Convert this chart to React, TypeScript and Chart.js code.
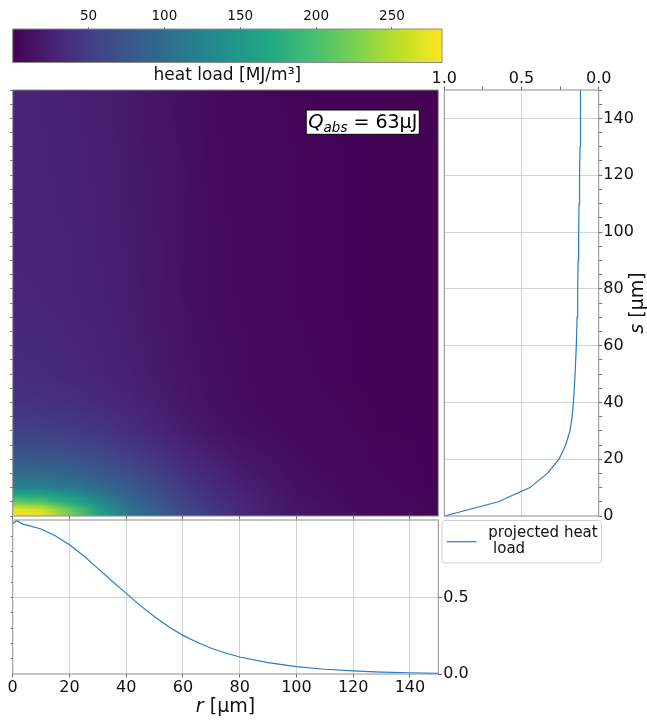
import React, { useEffect, useRef } from 'react';
import { Chart, registerables } from 'chart.js';

Chart.register(...registerables);

// ---------- styling ----------
const FONT = "'DejaVu Sans', 'Liberation Sans', sans-serif";
const TEXT = '#111111';
const SPINE = '#8c8c8c';
const GRID = '#d3d3d3';
const TICK = '#707070';
const LINE = '#2a7dc4';

// ---------- colour bar ----------
const CB_MIN = 0;
const CB_MAX = 283;
const CB_TICKS = [50, 100, 150, 200, 250];
const CB_LABEL = 'heat load [MJ/m³]';
const VIRIDIS = ['#440154', '#482475', '#414487', '#355f8d', '#2a788e', '#21918c', '#22a884', '#44bf70', '#7ad151', '#bddf26', '#fde725'];

// ---------- heat map grid (r columns, s rows) ----------
const R_GRID = [0, 10, 20, 30, 40, 50, 60, 70, 80, 100, 125, 150];
const S_GRID = [0, 2.5, 5, 7.5, 10, 15, 20, 25, 30, 40, 50, 75, 100, 125, 150];
const HEAT_S0 = [280, 272, 228, 165, 118, 88, 64, 47, 33, 17, 7, 3];
const HEAT_S2_5 = [272, 262, 212, 156, 112, 84, 61, 45, 32, 16, 7, 3];
const HEAT_S5 = [215, 205, 172, 134, 100, 76, 56, 42, 30, 15, 6, 3];
const HEAT_S7_5 = [170, 164, 145, 118, 91, 70, 52, 39, 28, 14, 6, 3];
const HEAT_S10 = [130, 127, 117, 101, 82, 64, 48, 36, 26, 13, 6, 2];
const HEAT_S15 = [98, 96, 90, 80, 68, 54, 41, 31, 22, 11, 5, 2];
const HEAT_S20 = [80, 78, 74, 66, 56, 45, 34, 26, 19, 10, 4, 2];
const HEAT_S25 = [65, 64, 60, 54, 46, 37, 28, 21, 15, 8, 4, 2];
const HEAT_S30 = [54, 53, 50, 45, 38, 31, 23, 17, 12, 7, 3, 2];
const HEAT_S40 = [42, 41, 39, 35, 30, 24, 18, 13, 10, 5, 3, 1];
const HEAT_S50 = [36, 35, 33, 30, 26, 21, 16, 12, 9, 5, 2, 1];
const HEAT_S75 = [32, 31, 29, 27, 23, 19, 14, 10, 8, 4, 2, 1];
const HEAT_S100 = [30, 30, 28, 25, 22, 18, 13, 10, 7, 4, 2, 1];
const HEAT_S125 = [30, 29, 27, 25, 21, 17, 13, 9, 7, 4, 2, 1];
const HEAT_S150 = [29, 28, 26, 24, 20, 16, 12, 9, 6, 3, 2, 1];
const HEAT = [HEAT_S0, HEAT_S2_5, HEAT_S5, HEAT_S7_5, HEAT_S10, HEAT_S15, HEAT_S20, HEAT_S25, HEAT_S30, HEAT_S40, HEAT_S50, HEAT_S75, HEAT_S100, HEAT_S125, HEAT_S150];

// ---------- projected profiles ----------
const R_PROFILE = [0, 1.5, 3.5, 5, 10, 15, 20, 25, 30, 35, 40, 45, 50, 55, 60, 65, 70, 75, 80, 90, 100, 110, 120, 130, 140, 150];
const P_PROFILE = [0.983, 1.0, 0.978, 0.972, 0.946, 0.902, 0.844, 0.772, 0.689, 0.607, 0.526, 0.446, 0.374, 0.309, 0.252, 0.207, 0.168, 0.137, 0.111, 0.074, 0.048, 0.031, 0.020, 0.012, 0.008, 0.004];
const S_PROFILE = [0, 5, 10, 15, 20, 25, 30, 35, 40, 45, 50, 60, 70, 80, 90, 100, 110, 120, 130, 140, 150];
const Q_PROFILE = [1.0, 0.65, 0.445, 0.333, 0.257, 0.214, 0.186, 0.172, 0.164, 0.158, 0.153, 0.145, 0.140, 0.136, 0.133, 0.130, 0.127, 0.124, 0.121, 0.119, 0.117];

// ---------- ticks & labels ----------
const R_TICKS = [0, 20, 40, 60, 80, 100, 120, 140];
const S_TICKS = [0, 20, 40, 60, 80, 100, 120, 140];
const S_MINOR_TICKS = [0, 5, 10, 15, 20, 25, 30, 35, 40, 45, 50, 55, 60, 65, 70, 75, 80, 85, 90, 95, 100, 105, 110, 115, 120, 125, 130, 135, 140, 145, 150];
const Q_TICKS = [0, 0.25, 0.5, 0.75, 1];
const Q_LABELLED = [0, 0.5, 1];
const P_TICKS = [0, 0.5];
const P_MINOR_TICKS = [0.1, 0.2, 0.3, 0.4, 0.5, 0.6, 0.7, 0.8, 0.9];
const Q_ABS_MAIN = 'Q';
const Q_ABS_SUB = 'abs';
const Q_ABS_REST = ' = 63µJ';
const LEGEND_LINES = ['projected heat', ' load'];
const R_TITLE = ['r', ' [µm]'];
const S_TITLE = ['s', ' [µm]'];

// ---------- layout (page px) ----------
const PLOT_L = 12.7, PLOT_R = 438.3, PLOT_T = 90, PLOT_B = 516;
const SIDE_L = 444.3, SIDE_R = 598.7;
const BOT_T = 520, BOT_B = 674;
const CB_T = 29, CB_B = 62.5, CB_R = 442;

const CB_CANVAS = { left: 0, top: 0, w: 460, h: 88 };
const HM_CANVAS = { left: 0, top: 88, w: 442, h: 432 };
const SD_CANVAS = { left: 420, top: 60, w: 227, h: 470 };
const BT_CANVAS = { left: 0, top: 518, w: 647, h: 205 };

function hexToRgb(h: string): number[] {
  const n = parseInt(h.slice(1), 16);
  return [(n >> 16) & 255, (n >> 8) & 255, n & 255];
}
const VIRIDIS_RGB = VIRIDIS.map(hexToRgb);
function viridis(v: number): number[] {
  let f = (v - CB_MIN) / (CB_MAX - CB_MIN);
  f = Math.max(0, Math.min(1, f));
  const pos = f * (VIRIDIS_RGB.length - 1);
  const i = Math.min(Math.floor(pos), VIRIDIS_RGB.length - 2);
  const t = pos - i;
  const a = VIRIDIS_RGB[i], b = VIRIDIS_RGB[i + 1];
  return [a[0] + (b[0] - a[0]) * t, a[1] + (b[1] - a[1]) * t, a[2] + (b[2] - a[2]) * t];
}

const fixH = (h: number) => (s: any) => {
  s.height = h;
  s.paddingLeft = 0; s.paddingRight = 0; s.paddingTop = 0; s.paddingBottom = 0;
};
const fixW = (w: number) => (s: any) => {
  s.width = w;
  s.paddingLeft = 0; s.paddingRight = 0; s.paddingTop = 0; s.paddingBottom = 0;
};
const setTicks = (vals: number[]) => (s: any) => {
  s.ticks = vals.map((v) => ({ value: v }));
};

const spinePlugin = {
  id: 'spines',
  afterDraw(chart: any) {
    const { ctx, chartArea: a } = chart;
    ctx.save();
    ctx.strokeStyle = SPINE;
    ctx.lineWidth = 1;
    ctx.strokeRect(a.left, a.top, a.right - a.left, a.bottom - a.top);
    ctx.restore();
  },
};

const colorbarPlugin = {
  id: 'colorbar',
  beforeDatasetsDraw(chart: any) {
    const { ctx, chartArea: a, scales } = chart;
    const x0 = scales.x.getPixelForValue(CB_MIN);
    const x1 = scales.x.getPixelForValue(CB_MAX);
    const g = ctx.createLinearGradient(x0, 0, x1, 0);
    VIRIDIS.forEach((c, i) => g.addColorStop(i / (VIRIDIS.length - 1), c));
    ctx.save();
    ctx.fillStyle = g;
    ctx.fillRect(x0, a.top, x1 - x0, a.bottom - a.top);
    ctx.restore();
  },
};

const heatmapPlugin = {
  id: 'heatmapCells',
  beforeDatasetsDraw(chart: any) {
    const { ctx, scales } = chart;
    const xs = scales.x, ys = scales.y;
    const cell = document.createElement('canvas');
    cell.width = 2; cell.height = 2;
    const cctx = cell.getContext('2d')!;
    const img = cctx.createImageData(2, 2);
    const put = (k: number, v: number) => {
      const c = viridis(v);
      img.data[k * 4] = Math.round(c[0]);
      img.data[k * 4 + 1] = Math.round(c[1]);
      img.data[k * 4 + 2] = Math.round(c[2]);
      img.data[k * 4 + 3] = 255;
    };
    for (let i = 0; i < S_GRID.length - 1; i++) {
      const yTop = Math.round(ys.getPixelForValue(S_GRID[i + 1]));
      const yBot = Math.round(ys.getPixelForValue(S_GRID[i]));
      for (let j = 0; j < R_GRID.length - 1; j++) {
        const xL = Math.round(xs.getPixelForValue(R_GRID[j]));
        const xR = Math.round(xs.getPixelForValue(R_GRID[j + 1]));
        put(0, HEAT[i + 1][j]);
        put(1, HEAT[i + 1][j + 1]);
        put(2, HEAT[i][j]);
        put(3, HEAT[i][j + 1]);
        cctx.putImageData(img, 0, 0);
        const w = xR - xL, h = yBot - yTop;
        ctx.save();
        ctx.beginPath();
        ctx.rect(xL, yTop, w, h);
        ctx.clip();
        ctx.imageSmoothingEnabled = true;
        ctx.imageSmoothingQuality = 'low';
        ctx.drawImage(cell, xL - w / 2, yTop - h / 2, 2 * w, 2 * h);
        ctx.restore();
      }
    }
  },
};

const qAbsPlugin = {
  id: 'qAbs',
  afterDraw(chart: any) {
    const { ctx, chartArea: a } = chart;
    const big = `19px ${FONT}`;
    const bigI = `italic 19.5px ${FONT}`;
    const subI = `italic 13.5px ${FONT}`;
    ctx.save();
    ctx.font = bigI; const wQ = ctx.measureText(Q_ABS_MAIN).width;
    ctx.font = subI; const wS = ctx.measureText(Q_ABS_SUB).width;
    ctx.font = big; const wR = ctx.measureText(Q_ABS_REST).width;
    const boxW = wQ + wS + wR + 4;
    const boxH = 24.3;
    const right = a.right - 19;
    const top = a.top + 20;
    const left = right - boxW;
    ctx.fillStyle = '#ffffff';
    ctx.fillRect(left, top, boxW, boxH);
    ctx.strokeStyle = '#000000';
    ctx.lineWidth = 1;
    ctx.strokeRect(left, top, boxW, boxH);
    ctx.fillStyle = '#000000';
    ctx.textBaseline = 'alphabetic';
    ctx.textAlign = 'left';
    const base = top + 18.2;
    let x = left + 2;
    ctx.font = bigI; ctx.fillText(Q_ABS_MAIN, x, base); x += wQ;
    ctx.font = subI; ctx.fillText(Q_ABS_SUB, x, base + 3.5); x += wS;
    ctx.font = big; ctx.fillText(Q_ABS_REST, x, base);
    ctx.restore();
  },
};

function drawMixedTitle(ctx: any, parts: string[], cx: number, cy: number, rot: number) {
  const fi = `italic 19px ${FONT}`;
  const fn = `19px ${FONT}`;
  ctx.save();
  ctx.font = fi; const w0 = ctx.measureText(parts[0]).width;
  ctx.font = fn; const w1 = ctx.measureText(parts[1]).width;
  ctx.translate(cx, cy);
  ctx.rotate(rot);
  ctx.fillStyle = TEXT;
  ctx.textBaseline = 'middle';
  ctx.textAlign = 'left';
  const start = -(w0 + w1) / 2;
  ctx.font = fi; ctx.fillText(parts[0], start, 0);
  ctx.font = fn; ctx.fillText(parts[1], start + w0, 0);
  ctx.restore();
}

const sTitlePlugin = {
  id: 'sTitle',
  afterDraw(chart: any) {
    drawMixedTitle(chart.ctx, S_TITLE, 638 - SD_CANVAS.left, (PLOT_T + PLOT_B) / 2 - SD_CANVAS.top, -Math.PI / 2);
  },
};

const rTitlePlugin = {
  id: 'rTitle',
  afterDraw(chart: any) {
    drawMixedTitle(chart.ctx, R_TITLE, (PLOT_L + PLOT_R) / 2 - BT_CANVAS.left, 707 - BT_CANVAS.top, 0);
  },
};

const legendPlugin = {
  id: 'projLegend',
  afterDraw(chart: any) {
    const ctx = chart.ctx;
    const ox = BT_CANVAS.left, oy = BT_CANVAS.top;
    const x0 = 442 - ox, y0 = 520.5 - oy, w = 159.5, h = 42.5, r = 3;
    ctx.save();
    ctx.beginPath();
    ctx.moveTo(x0 + r, y0);
    ctx.lineTo(x0 + w - r, y0);
    ctx.quadraticCurveTo(x0 + w, y0, x0 + w, y0 + r);
    ctx.lineTo(x0 + w, y0 + h - r);
    ctx.quadraticCurveTo(x0 + w, y0 + h, x0 + w - r, y0 + h);
    ctx.lineTo(x0 + r, y0 + h);
    ctx.quadraticCurveTo(x0, y0 + h, x0, y0 + h - r);
    ctx.lineTo(x0, y0 + r);
    ctx.quadraticCurveTo(x0, y0, x0 + r, y0);
    ctx.closePath();
    ctx.fillStyle = 'rgba(255,255,255,0.85)';
    ctx.fill();
    ctx.strokeStyle = '#d0d0d0';
    ctx.lineWidth = 1;
    ctx.stroke();
    ctx.strokeStyle = LINE;
    ctx.lineWidth = 1.2;
    ctx.beginPath();
    ctx.moveTo(446.7 - ox, 541.7 - oy);
    ctx.lineTo(476.7 - ox, 541.7 - oy);
    ctx.stroke();
    ctx.fillStyle = TEXT;
    ctx.font = `15px ${FONT}`;
    ctx.textBaseline = 'middle';
    ctx.textAlign = 'left';
    ctx.fillText(LEGEND_LINES[0], 488.3 - ox, 533 - oy);
    ctx.fillText(LEGEND_LINES[1], 488.3 - ox, 549.5 - oy);
    ctx.restore();
  },
};

const baseOptions = {
  responsive: false,
  animation: false as const,
  devicePixelRatio: 1,
  events: [] as any[],
  plugins: { legend: { display: false }, tooltip: { enabled: false }, title: { display: false } },
};

export default function App() {
  const cbRef = useRef<HTMLCanvasElement>(null);
  const hmRef = useRef<HTMLCanvasElement>(null);
  const sdRef = useRef<HTMLCanvasElement>(null);
  const btRef = useRef<HTMLCanvasElement>(null);

  useEffect(() => {
    const charts: Chart[] = [];

    // colour bar
    charts.push(
      new Chart(cbRef.current!, {
        type: 'scatter',
        data: { datasets: [] },
        options: {
          ...baseOptions,
          layout: { padding: { left: PLOT_L, right: CB_CANVAS.w - CB_R, top: 0, bottom: 0 } },
          scales: {
            x: {
              type: 'linear', position: 'top', min: CB_MIN, max: CB_MAX,
              afterBuildTicks: setTicks(CB_TICKS),
              ticks: { font: { family: FONT, size: 13.5 }, color: TEXT, padding: 2.2, maxRotation: 0, autoSkip: false },
              grid: { display: true, drawOnChartArea: false, drawTicks: true, tickLength: 2, color: TICK },
              border: { display: false },
              afterFit: fixH(CB_T),
            },
            x2: {
              type: 'linear', position: 'bottom', min: CB_MIN, max: CB_MAX,
              ticks: { display: false },
              grid: { display: false },
              border: { display: false },
              title: { display: true, text: CB_LABEL, color: TEXT, font: { family: FONT, size: 17 }, padding: { top: 0, bottom: 2 } },
              afterFit: fixH(CB_CANVAS.h - CB_B),
            },
            y: { display: false, min: 0, max: 1 },
          },
        } as any,
        plugins: [colorbarPlugin, spinePlugin],
      })
    );

    // heat map
    charts.push(
      new Chart(hmRef.current!, {
        type: 'scatter',
        data: { datasets: [] },
        options: {
          ...baseOptions,
          layout: { padding: { left: 0, right: HM_CANVAS.w - PLOT_R, top: PLOT_T - HM_CANVAS.top, bottom: 0 } },
          scales: {
            x: {
              type: 'linear', position: 'bottom', min: 0, max: 150,
              afterBuildTicks: setTicks(R_TICKS),
              ticks: { display: false },
              grid: { display: true, drawOnChartArea: false, drawTicks: true, tickLength: 3.5, color: TICK },
              border: { display: false },
              afterFit: fixH(HM_CANVAS.top + HM_CANVAS.h - PLOT_B),
            },
            y: {
              type: 'linear', position: 'left', min: 0, max: 150,
              afterBuildTicks: setTicks(S_MINOR_TICKS),
              ticks: { display: false },
              grid: { display: true, drawOnChartArea: false, drawTicks: true, tickLength: 2.5, color: TICK },
              border: { display: false },
              afterFit: fixW(PLOT_L),
            },
          },
        } as any,
        plugins: [heatmapPlugin, spinePlugin, qAbsPlugin],
      })
    );

    // side (s) profile
    charts.push(
      new Chart(sdRef.current!, {
        type: 'line',
        data: {
          datasets: [
            {
              label: LEGEND_LINES.join('\n'),
              data: S_PROFILE.map((s, i) => ({ x: Q_PROFILE[i], y: s })),
              borderColor: LINE, borderWidth: 1.2, pointRadius: 0, tension: 0, fill: false,
            },
          ],
        },
        options: {
          ...baseOptions,
          layout: { padding: { left: SIDE_L - SD_CANVAS.left, right: 0, top: 0, bottom: SD_CANVAS.top + SD_CANVAS.h - PLOT_B } },
          scales: {
            x: {
              type: 'linear', position: 'top', min: 0, max: 1, reverse: true,
              afterBuildTicks: setTicks(Q_TICKS),
              ticks: {
                font: { family: FONT, size: 16 }, color: TEXT, padding: -1.5, maxRotation: 0, autoSkip: false,
                callback: (v: any) => (Q_LABELLED.includes(v) ? Number(v).toFixed(1) : ''),
              },
              grid: {
                display: true, drawTicks: true, tickLength: 3.5, tickColor: TICK,
                color: (c: any) => (c.tick && c.tick.value === 0.5 ? GRID : 'rgba(0,0,0,0)'),
              },
              border: { display: false },
              afterFit: fixH(PLOT_T - SD_CANVAS.top),
            },
            y: {
              type: 'linear', position: 'right', min: 0, max: 150,
              afterBuildTicks: setTicks(S_MINOR_TICKS),
              ticks: {
                font: { family: FONT, size: 16 }, color: TEXT, padding: 1.1, autoSkip: false,
                callback: (v: any) => (S_TICKS.includes(v) ? String(v) : ''),
              },
              grid: {
                display: true, drawTicks: true, tickLength: 3.5, tickColor: TICK,
                color: (c: any) => (c.tick && S_TICKS.includes(c.tick.value) && c.tick.value !== 0 ? GRID : 'rgba(0,0,0,0)'),
              },
              border: { display: false },
              afterFit: fixW(SD_CANVAS.left + SD_CANVAS.w - SIDE_R),
            },
          },
        } as any,
        plugins: [spinePlugin, sTitlePlugin],
      })
    );

    // bottom (r) profile
    charts.push(
      new Chart(btRef.current!, {
        type: 'line',
        data: {
          datasets: [
            {
              label: LEGEND_LINES.join('\n'),
              data: R_PROFILE.map((r, i) => ({ x: r, y: P_PROFILE[i] })),
              borderColor: LINE, borderWidth: 1.2, pointRadius: 0, tension: 0, fill: false,
              yAxisID: 'y',
            },
          ],
        },
        options: {
          ...baseOptions,
          layout: { padding: { left: 0, right: 0, top: BOT_T - BT_CANVAS.top, bottom: 0 } },
          scales: {
            x: {
              type: 'linear', position: 'bottom', min: 0, max: 150,
              afterBuildTicks: setTicks(R_TICKS),
              ticks: { font: { family: FONT, size: 16 }, color: TEXT, padding: 1, maxRotation: 0, autoSkip: false },
              grid: {
                display: true, drawTicks: true, tickLength: 3.5, tickColor: TICK,
                color: (c: any) => (c.tick && c.tick.value !== 0 ? GRID : 'rgba(0,0,0,0)'),
              },
              border: { display: false },
              afterFit: fixH(BT_CANVAS.top + BT_CANVAS.h - BOT_B),
            },
            y: {
              type: 'linear', position: 'right', min: 0, max: 1.005,
              afterBuildTicks: setTicks(P_TICKS),
              ticks: {
                font: { family: FONT, size: 16 }, color: TEXT, padding: 1.5, autoSkip: false,
                callback: (v: any) => Number(v).toFixed(1),
              },
              grid: {
                display: true, drawTicks: true, tickLength: 3.5, tickColor: TICK,
                color: (c: any) => (c.tick && c.tick.value === 0.5 ? GRID : 'rgba(0,0,0,0)'),
              },
              border: { display: false },
              afterFit: fixW(BT_CANVAS.w - PLOT_R),
            },
            yl: {
              type: 'linear', position: 'left', min: 0, max: 1.005,
              afterBuildTicks: setTicks(P_MINOR_TICKS),
              ticks: { display: false },
              grid: { display: true, drawOnChartArea: false, drawTicks: true, tickLength: 2, color: TICK },
              border: { display: false },
              afterFit: fixW(PLOT_L),
            },
          },
        } as any,
        plugins: [spinePlugin, rTitlePlugin, legendPlugin],
      })
    );

    return () => charts.forEach((c) => c.destroy());
  }, []);

  const pos = (c: { left: number; top: number; w: number; h: number }) => ({
    position: 'absolute' as const, left: c.left, top: c.top, width: c.w, height: c.h,
  });

  return (
    <div style={{ position: 'fixed', left: 0, top: 0, width: 647, height: 723, background: '#ffffff', overflow: 'hidden' }}>
      <canvas ref={cbRef} width={CB_CANVAS.w} height={CB_CANVAS.h} style={pos(CB_CANVAS)} />
      <canvas ref={hmRef} width={HM_CANVAS.w} height={HM_CANVAS.h} style={pos(HM_CANVAS)} />
      <canvas ref={btRef} width={BT_CANVAS.w} height={BT_CANVAS.h} style={pos(BT_CANVAS)} />
      <canvas ref={sdRef} width={SD_CANVAS.w} height={SD_CANVAS.h} style={pos(SD_CANVAS)} />
    </div>
  );
}
